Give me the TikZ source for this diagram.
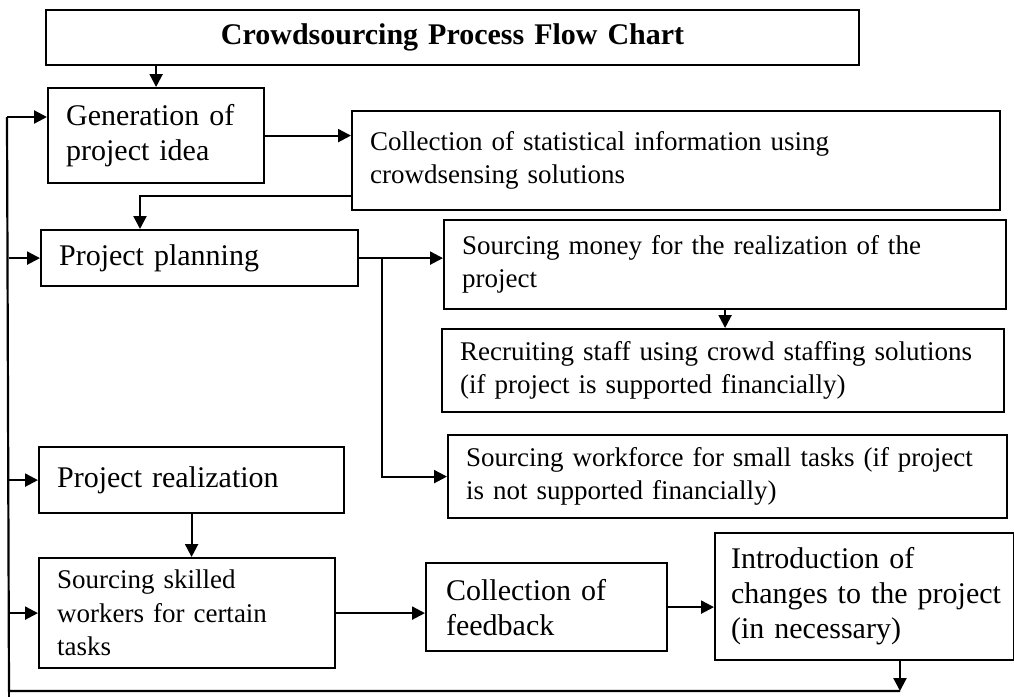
\documentclass[tikz,border=0pt]{standalone}
\usepackage{fontspec}
\setmainfont{Liberation Serif}
\usetikzlibrary{arrows.meta,calc}
\begin{document}
\begin{tikzpicture}[x=1pt,y=-1pt,
  box/.style={draw, line width=1.1pt, anchor=north west, align=left, inner xsep=9pt, inner ysep=0pt},
  big/.style={font=\fontsize{15}{17.5}\selectfont},
  small/.style={font=\fontsize{13.5}{16.5}\selectfont},
  arr/.style={line width=1.1pt, -{Triangle[length=6.5pt,width=6.5pt]}},
  ln/.style={line width=1.1pt}]
\useasboundingbox[fill=white] (0,0) rectangle (507,348.5);

\node[box, align=center, text width=388.5pt, minimum height=27.5pt, font=\fontsize{15}{17.5}\selectfont\bfseries] (title) at (22.5,4.5) {Crowdsourcing Process Flow Chart};
\node[box, big, text width=90pt, minimum height=47.5pt] (gen) at (23.5,43.5) {Generation of\\project idea};
\node[box, small, text width=306pt, minimum height=49.5pt] (coll) at (175.5,55) {Collection of statistical information using\\crowdsensing solutions};
\node[box, big, text width=140.5pt, minimum height=28pt] (plan) at (20,114.5) {Project planning};
\node[box, small, text width=263pt, minimum height=44.5pt] (sm) at (221.5,109.5) {Sourcing money for the realization of the\\project};
\node[box, small, text width=263pt, minimum height=41.5pt] (rs) at (220.5,164) {Recruiting staff using crowd staffing solutions\\(if project is supported financially)};
\node[box, small, text width=261.5pt, minimum height=41.5pt] (sw) at (223.5,217) {Sourcing workforce for small tasks (if project\\is not supported financially)};
\node[box, big, text width=134.5pt, minimum height=33pt] (pr) at (19,223) {Project realization};
\node[box, small, text width=130pt, minimum height=55pt, font=\fontsize{13.5}{16.8}\selectfont] (ss) at (19,278.5) {Sourcing skilled\\workers for certain\\tasks};
\node[box, big, inner xsep=10pt, text width=100.5pt, minimum height=44pt] (cf) at (212.5,281) {Collection of\\feedback};
\node[box, big, inner xsep=8pt, text width=133.5pt, minimum height=63.5pt] (ic) at (357,266) {Introduction of\\\mbox{changes to the project}\\(in necessary)};

\coordinate (br) at (450,345.5);
\coordinate (bl) at (4.5,345.5);
\coordinate (tl) at (3.5,58.5);

\draw[arr] (title.south -| gen.north) -- (gen.north);
\draw[arr] (gen.east) -- (coll.west |- gen.east);
\draw[arr] ([yshift=7.5pt]coll.south west) -| ([xshift=50pt]plan.north west);
\draw[arr] (plan.east) -- (sm.west |- plan.east);
\draw[arr] ([xshift=11.5pt]plan.east) |- (sw.west);
\draw[arr] (sm.south) -- (rs.north -| sm.south);
\draw[arr] (pr.south) -- (ss.north -| pr.south);
\draw[arr] (ss.east) -- (cf.west |- ss.east);
\draw[arr] (cf.east) -- (ic.west |- cf.east);
\draw[arr] (ic.south -| br) -- (br);
\draw[ln] (br) -- (bl) -- (tl);
\draw[ln] (bl) -- ++(0,3);
\draw[arr] (tl) -- (gen.west |- tl);
\draw[arr] (bl |- plan.west) -- (plan.west);
\draw[arr] (bl |- pr.west) -- (pr.west);
\draw[arr] (bl |- ss.west) -- (ss.west);
\end{tikzpicture}
\end{document}
